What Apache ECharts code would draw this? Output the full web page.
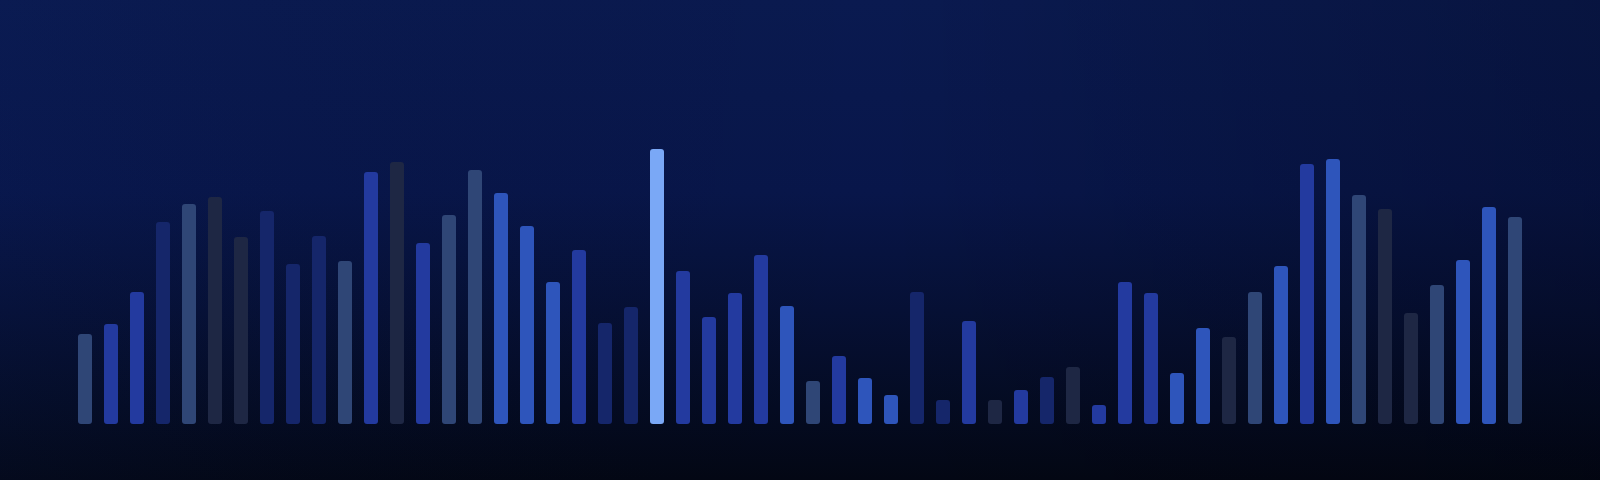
<!DOCTYPE html>
<html>
<head>
<meta charset="utf-8">
<title>bars</title>
<script src="https://cdn.jsdelivr.net/npm/echarts@6/dist/echarts.min.js"></script>
<style>
html,body{margin:0;padding:0;background:#050c28;}
#chart{width:1600px;height:480px;}
</style>
</head>
<body>
<div id="chart"></div>
<script>
// 56 bars, no axis labels in the picture
var categories=[];
for(var i=1;i<=56;i++){categories.push('B'+i);}
var values=[30,33.3,44,67.3,73.3,75.7,62.3,71,53.3,62.7,54.3,84,87.3,60.3,69.7,84.7,
	77,66,47.3,58,33.7,39,91.7,51,35.7,43.7,56.3,39.3,14.3,22.7,15.3,9.7,
	44,8,34.3,8,11.3,15.7,19,6.3,47.3,43.7,17,32,29,44,52.7,86.7,
	88.3,76.3,71.7,37,46.3,54.7,72.3,69];
// colour group of each bar
var groups=['A','B','B','C','A','D','D','C','C','C','A','B','D','B','A','A',
	'E','E','E','B','C','C','F','B','B','B','B','E','A','B','E','E',
	'C','C','B','D','B','C','D','B','B','B','E','E','D','A','E','B',
	'E','A','D','D','A','E','E','A'];
var palette={
	A:'#2f4676',   //灰蓝
	B:'#233a9f',   //中蓝
	C:'#15266a',   //深蓝
	D:'#1e2744',   //暗灰
	E:'#2e55bb',   //亮蓝
	F:'#7aa8f6'    //高亮
};

var chart=echarts.init(document.getElementById('chart'));
var barData=values.map(function(v,i){
	return {value:v,itemStyle:{color:palette[groups[i]]}};
});
chart.setOption({
	animation:false,
	backgroundColor:{
		type:'linear',x:0,y:0,x2:0,y2:1,
		colorStops:[
			{offset:0,color:'#0a1a50'},
			{offset:0.4,color:'#08164a'},
			{offset:0.65,color:'#061035'},
			{offset:0.85,color:'#040b22'},
			{offset:1,color:'#030714'}
		]
	},
	graphic:[{
		type:'rect',
		z:-1,
		silent:true,
		shape:{x:0,y:0,width:1600,height:480},
		style:{
			fill:{
				type:'linear',x:0,y:0,x2:1,y2:0,
				colorStops:[
					{offset:0,color:'rgba(14,34,96,0.12)'},
					{offset:0.55,color:'rgba(0,0,0,0)'},
					{offset:1,color:'rgba(0,0,8,0.22)'}
				]
			}
		}
	}],
	grid:{left:72,right:72,top:124,bottom:56},
	xAxis:{
		type:'category',
		data:categories,
		axisLine:{show:false},
		axisTick:{show:false},
		axisLabel:{show:false}
	},
	yAxis:{
		type:'value',
		min:0,
		max:100,
		splitLine:{show:false},
		axisLine:{show:false},
		axisLabel:{show:false}
	},
	series:[{
		type:'bar',
		data:barData,
		barWidth:14,
		itemStyle:{borderRadius:3}
	}]
});
</script>
</body>
</html>
